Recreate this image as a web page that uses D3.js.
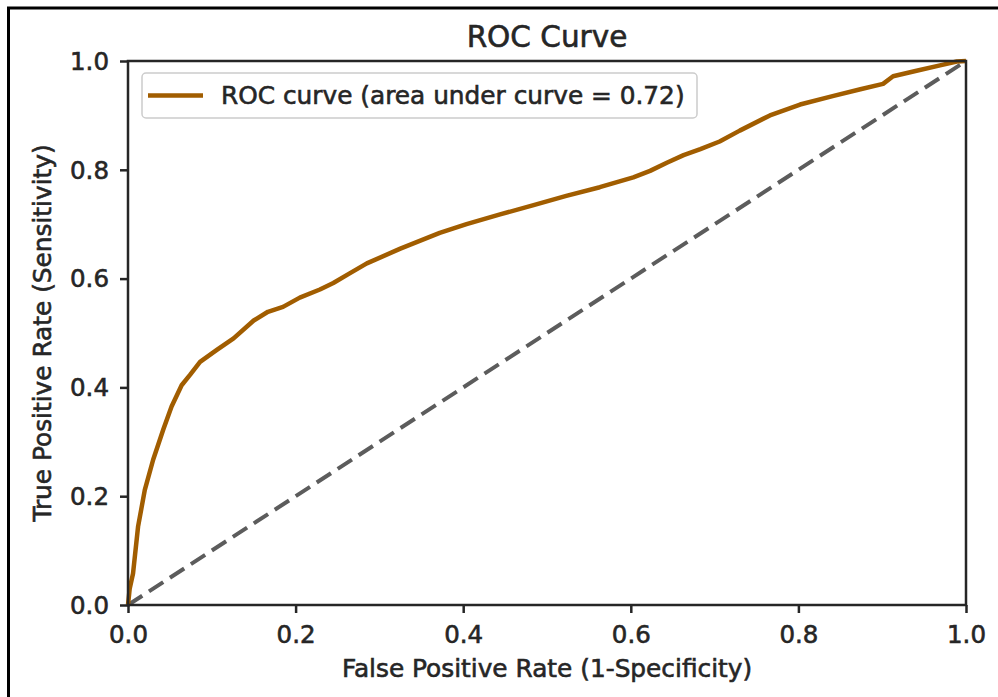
<!DOCTYPE html>
<html>
<head>
<meta charset="utf-8">
<script src="https://cdn.jsdelivr.net/npm/d3@7"></script>
<style>
  html, body { margin: 0; padding: 0; background: #fff; }
  svg { display: block; }
  text { font-family: "DejaVu Sans", sans-serif; fill: #262626; stroke: #262626; stroke-width: 0.6px; }
</style>
</head>
<body>
<script>
const fpr = [0, 0.002, 0.006, 0.012, 0.020, 0.030, 0.042, 0.052, 0.064, 0.074, 0.086, 0.106, 0.126, 0.150, 0.167, 0.185, 0.205, 0.229, 0.245, 0.265, 0.285, 0.325, 0.372, 0.404, 0.444, 0.484, 0.523, 0.563, 0.603, 0.623, 0.643, 0.663, 0.683, 0.706, 0.730, 0.766, 0.802, 0.842, 0.874, 0.901, 0.913, 0.941, 0.969, 0.989, 1.0];
const tpr = [0, 0.030, 0.058, 0.144, 0.211, 0.267, 0.322, 0.365, 0.404, 0.423, 0.447, 0.469, 0.490, 0.523, 0.539, 0.548, 0.565, 0.580, 0.592, 0.610, 0.628, 0.655, 0.684, 0.700, 0.718, 0.735, 0.752, 0.768, 0.786, 0.798, 0.813, 0.827, 0.838, 0.852, 0.872, 0.900, 0.920, 0.936, 0.948, 0.958, 0.972, 0.982, 0.992, 0.999, 1.0];
const chanceX = [0, 1];
const chanceY = [0, 1];
const tickValues = [0, 0.2, 0.4, 0.6, 0.8, 1.0];
const tickLabels = ["0.0", "0.2", "0.4", "0.6", "0.8", "1.0"];
const titleText = "ROC Curve";
const xLabel = "False Positive Rate (1-Specificity)";
const yLabel = "True Positive Rate (Sensitivity)";
const legendLabel = "ROC curve (area under curve = 0.72)";

(function () {
const W = 998, H = 697;
const pL = 128, pR = 966, pT = 61, pB = 605;

const svg = d3.select("body").append("svg").attr("width", W).attr("height", H);

// outer frame (only top/left visible)
svg.append("rect").attr("x", 8.5).attr("y", 8).attr("width", 1200).attr("height", 1000)
  .attr("fill", "none").attr("stroke", "#000").attr("stroke-width", 3);

const x = d3.scaleLinear().domain([0, 1]).range([pL, pR]);
const y = d3.scaleLinear().domain([0, 1]).range([pB, pT]);

// chance line
svg.append("path")
  .attr("d", d3.line().x((d, i) => x(chanceX[i])).y((d, i) => y(chanceY[i]))(chanceX))
  .attr("fill", "none").attr("stroke", "#5c5c5c").attr("stroke-width", 4)
  .attr("stroke-dasharray", "17,8");

// ROC curve
svg.append("path")
  .attr("d", d3.line().x((d, i) => x(fpr[i])).y((d, i) => y(tpr[i]))(fpr))
  .attr("fill", "none").attr("stroke", "#a15d00").attr("stroke-width", 4.5)
  .attr("stroke-linejoin", "round");

// axes
const fmt = (d) => tickLabels[tickValues.indexOf(d)];
const xAxis = svg.append("g").attr("transform", `translate(0,${pB})`)
  .call(d3.axisBottom(x).tickValues(tickValues).tickFormat(fmt).tickSize(8).tickPadding(4));
const yAxis = svg.append("g").attr("transform", `translate(${pL},0)`)
  .call(d3.axisLeft(y).tickValues(tickValues).tickFormat(fmt).tickSize(8).tickPadding(11));
[xAxis, yAxis].forEach(g => {
  g.select(".domain").remove();
  g.selectAll(".tick line").attr("stroke", "#262626").attr("stroke-width", 2.5);
  g.selectAll(".tick text").attr("fill", "#262626").style("font-size", "24.5px")
    .style("font-family", "DejaVu Sans");
});
xAxis.selectAll(".tick text").attr("dy", null).attr("y", 38);
yAxis.selectAll(".tick text").attr("dy", "0.34em");

// spines
svg.append("rect").attr("x", pL).attr("y", pT).attr("width", pR - pL).attr("height", pB - pT)
  .attr("fill", "none").attr("stroke", "#262626").attr("stroke-width", 2.5);

// title
svg.append("text").attr("x", (pL + pR) / 2).attr("y", 46.5).attr("text-anchor", "middle")
  .style("font-size", "29.5px").text(titleText);

// x label
svg.append("text").attr("x", (pL + pR) / 2).attr("y", 677).attr("text-anchor", "middle")
  .style("font-size", "24.8px").text(xLabel);

// y label
svg.append("text").attr("transform", `translate(51,${(pT + pB) / 2}) rotate(-90)`)
  .attr("text-anchor", "middle").style("font-size", "24.8px").text(yLabel);

// legend
const lg = svg.append("g");
lg.append("rect").attr("x", 142).attr("y", 73).attr("width", 555).attr("height", 45).attr("rx", 4)
  .attr("fill", "#fff").attr("fill-opacity", 0.8).attr("stroke", "#cccccc").attr("stroke-width", 1.5);
lg.append("line").attr("x1", 148).attr("x2", 203).attr("y1", 95.5).attr("y2", 95.5)
  .attr("stroke", "#a15d00").attr("stroke-width", 4.5);
lg.append("text").attr("x", 221).attr("y", 104).style("font-size", "24.8px").text(legendLabel);
})();
</script>
</body>
</html>
